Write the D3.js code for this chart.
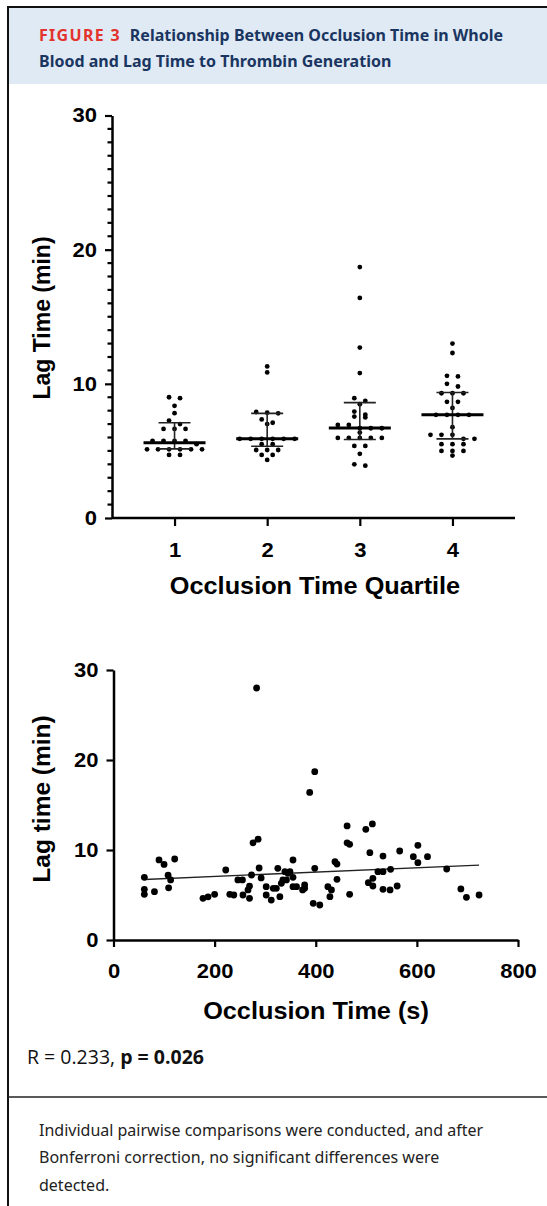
<!DOCTYPE html>
<html><head><meta charset="utf-8">
<script src="https://cdn.jsdelivr.net/npm/d3@7"></script>
<style>
html,body{margin:0;padding:0;background:#fff;}
svg{display:block;}
</style></head>
<body>
<svg id="c" width="547" height="1206"></svg>
<script>
// ---------- DATA ----------
const quartiles = ["1", "2", "3", "4"];
const lagQ1 = [9.0, 8.93, 8.36, 7.81, 7.26, 7.0, 6.64, 6.64, 6.64, 5.75, 5.75, 5.75, 5.75, 5.5, 5.12, 5.12, 5.12, 5.12, 5.12, 5.12, 4.7, 4.7];
const lagQ2 = [11.3, 10.85, 7.9, 7.85, 7.8, 7.35, 7.1, 7.0, 5.9, 5.9, 5.9, 5.9, 5.9, 5.9, 5.5, 5.5, 5.07, 5.07, 5.07, 4.7, 4.7, 4.33];
const lagQ3 = [18.7, 16.4, 12.7, 10.8, 8.93, 8.73, 8.48, 7.93, 7.7, 7.56, 7.5, 6.94, 6.94, 6.69, 6.69, 6.69, 6.37, 5.97, 5.97, 5.97, 5.97, 5.97, 5.37, 5.37, 4.78, 4.0, 3.9];
const lagQ4 = [13.0, 12.3, 10.6, 10.55, 10.0, 9.8, 9.3, 9.3, 9.3, 8.66, 8.66, 8.2, 7.69, 7.69, 7.69, 7.69, 6.77, 6.2, 6.2, 6.2, 5.9, 5.9, 5.5, 5.5, 5.5, 5.0, 5.0, 5.0, 4.65];
const medians = [5.6, 5.9, 6.7, 7.7];
const iqrLow  = [5.15, 5.35, 5.85, 5.9];
const iqrHigh = [7.1, 7.8, 8.6, 9.35];
const yTicksTop = [0, 10, 20, 30];

const occlusionTime = [61, 61, 61, 81, 90, 100, 108, 113, 109, 121, 177, 187, 200, 222, 230, 238, 246, 255, 256, 269, 266, 269, 273, 276, 286, 288, 292, 283, 302, 302, 312, 316, 322, 329, 325, 332, 335, 339, 342, 345, 349, 355, 355, 355, 362, 374, 378, 378, 398, 395, 408, 388, 398, 424, 428, 431, 438, 442, 442, 462, 462, 467, 467, 499, 512, 507, 504, 513, 513, 523, 533, 533, 533, 547, 548, 561, 566, 593, 602, 602, 621, 659, 687, 698, 723];
const lagTime = [6.96, 5.63, 5.08, 5.37, 8.9, 8.4, 7.2, 6.67, 5.8, 9.0, 4.63, 4.8, 5.07, 7.78, 5.07, 5.0, 6.67, 6.67, 5.0, 5.99, 5.56, 4.63, 7.22, 10.8, 11.2, 8.0, 6.9, 28.0, 5.93, 5.0, 4.44, 5.74, 5.74, 4.81, 7.96, 6.3, 6.67, 7.59, 6.67, 7.41, 7.59, 8.89, 6.96, 5.93, 5.93, 5.56, 6.11, 5.74, 7.96, 4.07, 3.89, 16.4, 18.7, 5.93, 4.81, 5.56, 8.7, 8.44, 6.74, 12.67, 10.8, 10.63, 5.07, 12.3, 12.9, 9.7, 6.37, 6.0, 6.85, 7.59, 7.59, 9.33, 5.63, 5.56, 7.85, 6.0, 9.89, 9.26, 10.52, 8.59, 9.26, 7.89, 5.67, 4.74, 5.0];
const fitX = [61, 723];
const fitY = [6.72, 8.33];
const xTicksBottom = [0, 200, 400, 600, 800];
const yTicksBottom = [0, 10, 20, 30];

// ---------- FRAME ----------
const svg = d3.select("#c");
const F = "'Liberation Sans', Arial, sans-serif";
svg.append("rect").attr("x", 9).attr("y", 8).attr("width", 538).attr("height", 76).attr("fill", "#dfeaf5");
svg.append("line").attr("x1", 7).attr("x2", 547).attr("y1", 7).attr("y2", 7).attr("stroke", "#111").attr("stroke-width", 2);
svg.append("line").attr("x1", 8).attr("x2", 8).attr("y1", 6).attr("y2", 1206).attr("stroke", "#111").attr("stroke-width", 2);
svg.append("line").attr("x1", 8).attr("x2", 547).attr("y1", 1097).attr("y2", 1097).attr("stroke", "#222").attr("stroke-width", 1.5);

const t1 = svg.append("text").attr("x", 39).attr("y", 40.5).attr("font-family", "'Noto Sans', sans-serif").attr("font-weight", "bold").attr("font-size", 16).attr("fill", "#1b3561");
t1.append("tspan").attr("fill", "#e3332c").attr("letter-spacing", "1.3px").text("FIGURE 3");
t1.append("tspan").attr("dx", 9).text("Relationship Between Occlusion Time in Whole");
svg.append("text").attr("x", 39).attr("y", 66.5).attr("font-family", "'Noto Sans', sans-serif").attr("font-weight", "bold").attr("font-size", 16).attr("fill", "#1b3561").text("Blood and Lag Time to Thrombin Generation");

// helper to stretch text horizontally
function stretchLeft(sel) {
  sel.selectAll("text").each(function() {
    const x = +this.getAttribute("x");
    d3.select(this).attr("x", 0).attr("transform", `translate(${x},0) scale(1.1,1)`);
  });
}
function stretchBottom(sel) {
  sel.selectAll("text").attr("transform", "scale(1.1,1)");
}

// ---------- TOP: dot plot ----------
const yT = d3.scaleLinear().domain([0, 30]).range([518, 115.5]);
const xT = d3.scalePoint().domain(quartiles).range([112, 515]).padding(0.675);

const gyT = svg.append("g").attr("transform", "translate(112,0)")
  .call(d3.axisLeft(yT).tickValues(yTicksTop).tickSize(7).tickPadding(8).tickFormat(d3.format("d")).tickSizeOuter(0));
// minor ticks
svg.append("g").selectAll("line").data(d3.range(0, 31).filter(v => v % 10 !== 0)).join("line")
  .attr("x1", 112 - 4.5).attr("x2", 112).attr("y1", d => yT(d)).attr("y2", d => yT(d))
  .attr("stroke", "#000").attr("stroke-width", 2.2);
const gxT = svg.append("g").attr("transform", "translate(0,518)")
  .call(d3.axisBottom(xT).tickSize(8).tickPadding(17).tickSizeOuter(0));
[gyT, gxT].forEach(g => {
  g.select(".domain").attr("stroke", "#000").attr("stroke-width", 2.5);
  g.selectAll(".tick line").attr("stroke", "#000").attr("stroke-width", 2.2);
  g.selectAll("text").attr("font-family", F).attr("font-weight", "bold").attr("font-size", 20).attr("fill", "#000");
});
gxT.select(".domain").attr("d", "M112,0H515");
stretchLeft(gyT); stretchBottom(gxT);

svg.append("text").attr("transform", "translate(50,318) rotate(-90)").attr("text-anchor", "middle")
  .attr("font-family", F).attr("font-weight", "bold").attr("font-size", 23).text("Lag Time (min)");
svg.append("text").attr("transform", "translate(315,594) scale(1.1,1)").attr("text-anchor", "middle")
  .attr("font-family", F).attr("font-weight", "bold").attr("font-size", 23).text("Occlusion Time Quartile");

// beeswarm-like row layout (GraphPad style)
const groups = [lagQ1, lagQ2, lagQ3, lagQ4];
const spacing = 11, binW = 0.3;
groups.forEach((vals, gi) => {
  const sorted = vals.slice().sort((a, b) => b - a);
  const rows = [];
  sorted.forEach(v => {
    const r = rows[rows.length - 1];
    if (r && r[0] - v <= binW) r.push(v); else rows.push([v]);
  });
  const pts = [];
  rows.forEach(r => r.forEach((v, i) => pts.push({ v, off: (i - (r.length - 1) / 2) * spacing })));
  const cx = xT(quartiles[gi]);
  svg.append("g").selectAll("circle").data(pts).join("circle")
    .attr("cx", d => cx + d.off).attr("cy", d => yT(d.v)).attr("r", 2.4).attr("fill", "#000");
  // IQR bar
  svg.append("line").attr("x1", cx).attr("x2", cx).attr("y1", yT(iqrLow[gi])).attr("y2", yT(iqrHigh[gi])).attr("stroke", "#222").attr("stroke-width", 1.6);
  [iqrLow[gi], iqrHigh[gi]].forEach(v => svg.append("line").attr("x1", cx - 16).attr("x2", cx + 16).attr("y1", yT(v)).attr("y2", yT(v)).attr("stroke", "#222").attr("stroke-width", 1.6));
  svg.append("line").attr("x1", cx - 31).attr("x2", cx + 31).attr("y1", yT(medians[gi])).attr("y2", yT(medians[gi])).attr("stroke", "#000").attr("stroke-width", 3);
});

// ---------- BOTTOM: scatter ----------
const yB = d3.scaleLinear().domain([0, 30]).range([940, 670]);
const xB = d3.scaleLinear().domain([0, 800]).range([113.5, 518]);
const gyB = svg.append("g").attr("transform", "translate(113.5,0)")
  .call(d3.axisLeft(yB).tickValues(yTicksBottom).tickSize(7).tickPadding(8).tickFormat(d3.format("d")).tickSizeOuter(0));
const gxB = svg.append("g").attr("transform", "translate(0,940)")
  .call(d3.axisBottom(xB).tickValues(xTicksBottom).tickSize(7).tickPadding(17).tickFormat(d3.format("d")).tickSizeOuter(0));
[gyB, gxB].forEach(g => {
  g.select(".domain").attr("stroke", "#000").attr("stroke-width", 2.5);
  g.selectAll(".tick line").attr("stroke", "#000").attr("stroke-width", 2.2);
  g.selectAll("text").attr("font-family", F).attr("font-weight", "bold").attr("font-size", 20).attr("fill", "#000");
});
stretchLeft(gyB); stretchBottom(gxB);

svg.append("text").attr("transform", "translate(50,799) rotate(-90)").attr("text-anchor", "middle")
  .attr("font-family", F).attr("font-weight", "bold").attr("font-size", 24.5).text("Lag time (min)");
svg.append("text").attr("transform", "translate(316,1019) scale(1.1,1)").attr("text-anchor", "middle")
  .attr("font-family", F).attr("font-weight", "bold").attr("font-size", 23).text("Occlusion Time (s)");

svg.append("line").attr("x1", xB(fitX[0])).attr("x2", xB(fitX[1])).attr("y1", yB(fitY[0])).attr("y2", yB(fitY[1]))
  .attr("stroke", "#222").attr("stroke-width", 1.3);
svg.append("g").selectAll("circle").data(occlusionTime.map((x, i) => [x, lagTime[i]])).join("circle")
  .attr("cx", d => xB(d[0])).attr("cy", d => yB(d[1])).attr("r", 3.4).attr("fill", "#000");

// ---------- Stats & footnote ----------
const st = svg.append("text").attr("x", 27).attr("y", 1064).attr("font-family", "'Open Sans', sans-serif").attr("font-size", 19.5).attr("fill", "#111");
st.append("tspan").text("R = 0.233, ");
st.append("tspan").attr("font-weight", "bold").text("p = 0.026");

const foot = ["Individual pairwise comparisons were conducted, and after",
  "Bonferroni correction, no significant differences were",
  "detected."];
svg.append("g").selectAll("text").data(foot).join("text")
  .attr("x", 39).attr("y", (d, i) => 1135.5 + i * 27.5)
  .attr("font-family", "'Noto Sans', sans-serif").attr("font-size", 16).attr("fill", "#222").text(d => d);
</script>
</body></html>
